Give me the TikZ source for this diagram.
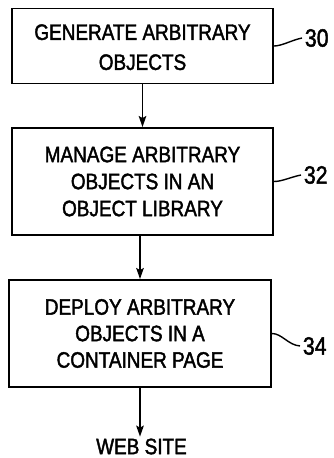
\documentclass[tikz,border=0pt]{standalone}
\usepackage{fontspec}
\setmainfont{Liberation Sans}[FakeStretch=0.85,FakeBold=1.8]
\usetikzlibrary{arrows.meta}
\begin{document}
\begin{tikzpicture}[x=1pt,y=-1pt,line width=1.9pt,
  stepbox/.style={draw,rectangle,align=center,inner sep=0pt,
    font=\fontsize{22.3}{26.5}\selectfont},
  flow/.style={-{Stealth[length=11pt,width=7.5pt,inset=2pt]}},
  refnum/.style={anchor=west,inner sep=0pt,font=\fontsize{25}{28}\selectfont},
  lead/.style={line width=1.4pt}]
\useasboundingbox (0,0) rectangle (333,458);

% process steps
\node[stepbox,minimum width=261pt,minimum height=75pt] (b1) at (142.5,46)
  {\rule{0pt}{18pt}GENERATE ARBITRARY\\[3.5pt]OBJECTS};
\node[stepbox,minimum width=261pt,minimum height=107pt] (b2) at (142.5,181.5)
  {MANAGE ARBITRARY\\[0.5pt]OBJECTS IN AN\\[0.5pt]OBJECT LIBRARY};
\node[stepbox,minimum width=262pt,minimum height=107pt] (b3) at (140,333.5)
  {DEPLOY ARBITRARY\\OBJECTS IN A\\CONTAINER PAGE};
\node[font=\fontsize{22.3}{26}\selectfont,inner sep=1pt] (web) at (141.5,446.5) {WEB SITE};

% flow arrows
\draw[flow] (b1.south) -- (b2.north);
\draw[flow] (b3.north |- b2.south) -- (b3.north);
\draw[flow] (b3.south) -- (b3.south |- web.north);

% reference numerals with leaders
\node[refnum] (n30) at (304,38) {30};
\node[refnum] (n32) at (303,175) {32};
\node[refnum] (n34) at (302,346) {34};
\draw[lead] (b1.east) .. controls +(8,0) and +(-10,2) .. ([xshift=-2pt]n30.west);
\draw[lead] (b2.east) .. controls +(8,0) and +(-10,2) .. ([xshift=-2pt]n32.west);
\draw[lead] (b3.east) .. controls +(10,0) and +(-12,-1) .. ([xshift=-2pt]n34.west);
\end{tikzpicture}
\end{document}
